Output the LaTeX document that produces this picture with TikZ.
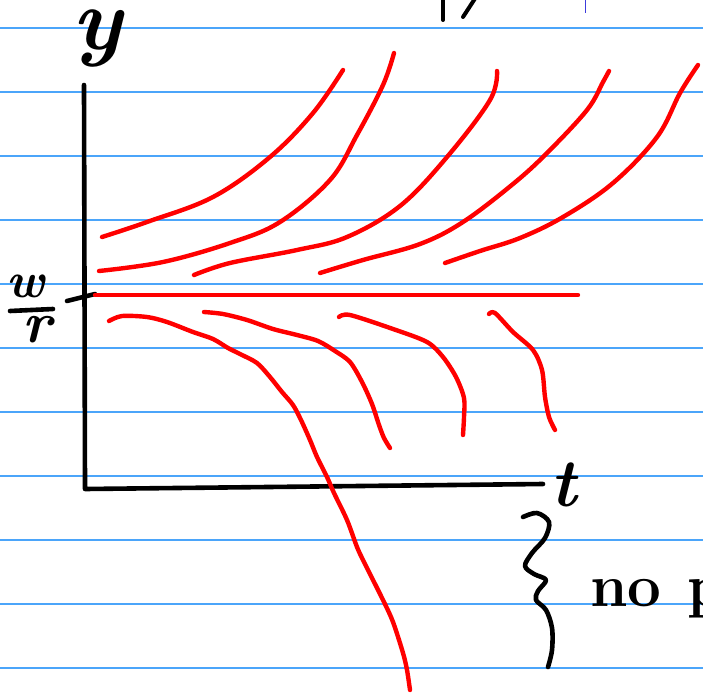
\documentclass[tikz,border=0pt]{standalone}
\usepackage{fontspec}
\definecolor{ruleblue}{RGB}{75,165,250}
\definecolor{pen}{RGB}{255,0,0}
\definecolor{tickblue}{RGB}{60,60,220}
\tikzset{
  ruleline/.style={draw=ruleblue,line width=1.6pt},
  axisline/.style={draw=black,line width=4.6pt,line cap=round,line join=round},
  sol/.style={draw=pen,line width=4.4pt,line cap=round,line join=round},
  hand/.style={inner sep=0pt,anchor=base west},
}
\begin{document}
\begin{tikzpicture}[x=1pt,y=-1pt]
\useasboundingbox (0,0) rectangle (703,698);
\clip (0,0) rectangle (703,698);
\fill[white] (0,0) rectangle (703,698);
% ruled paper
\foreach \k in {0,...,10} \draw[ruleline] (0,28+64*\k) -- (703,28+64*\k);

% partial strokes at the top edge
\draw[axisline,line width=4pt] (443,-3) -- (443,20);
\draw[axisline,line width=4pt] (463,17) -- (476,-3);
\draw[draw=tickblue,line width=1pt] (585,0) -- (585,13);

% axes
\coordinate (ytop) at (84,85);
\coordinate (O) at (85,489);
\coordinate (xend) at (543,484);
\draw[axisline] (ytop) -- (O) -- (xend);
\coordinate (tickL) at (67,301);
\coordinate (tickR) at (95,294);
\draw[axisline] (tickL) -- (tickR);

% labels
\node[hand,font=\fontsize{88}{88}\selectfont\bfseries\itshape] (ylab) at (72,50) {y};
\node[hand,font=\fontsize{68}{68}\selectfont\bfseries\itshape] (tlab) at (550,506) {t};
\node[hand,font=\fontsize{50}{50}\selectfont\bfseries\itshape] (wlab) at (6,297) {w};
\coordinate (barL) at (10,311);
\coordinate (barR) at (53,309);
\draw[axisline] (barL) -- (barR);
\node[hand,font=\fontsize{58}{58}\selectfont\bfseries\itshape] (rlab) at (22,342) {r};
\node[hand,font=\fontsize{60}{60}\selectfont\bfseries] (nolab) at (590,606) {no\hspace{26pt}p};

% brace
\draw[axisline] plot[smooth,tension=0.55] coordinates {
 (523,517) (537,513) (549,522) (545,538) (532,553) (525,566) (534,574) (546,580)
 (538,591) (536,600) (546,610) (552,628) (552,650) (548,667)};

% equilibrium
\coordinate (eqL) at (95,295);
\coordinate (eqR) at (578,295);
\draw[sol] (eqL) -- (eqR);

% solutions above
\draw[sol] plot[smooth,tension=0.6] coordinates {
 (102,237) (147,222) (213,197) (270,157) (313,113) (343,70)};
\draw[sol] plot[smooth,tension=0.6] coordinates {
 (99,271) (163,262) (230,243) (280,222) (330,180) (357,135) (383,85) (394,53)};
\draw[sol] plot[smooth,tension=0.6] coordinates {
 (194,275) (230,263) (297,250) (347,237) (400,206) (447,157) (490,100) (497,71)};
\draw[sol] plot[smooth,tension=0.6] coordinates {
 (320,273) (363,260) (420,244) (463,222) (513,184) (547,153) (587,110) (603,82) (609,71)};
\draw[sol] plot[smooth,tension=0.6] coordinates {
 (445,263) (480,251) (520,238) (563,217) (613,183) (657,137) (680,93) (698,65)};

% solutions below
\draw[sol] plot[smooth,tension=0.5] coordinates {
 (109,321) (122,316) (147,317) (167,322) (193,332) (213,339) (228,348) (240,354)
 (257,363) (270,377) (282,392) (293,405) (301,420) (310,440) (317,457) (327,477)
 (334,493) (347,520) (357,547) (364,562) (383,600) (393,622) (403,653) (407,670) (410,690)};
\draw[sol] plot[smooth,tension=0.5] coordinates {
 (204,312) (223,314) (247,320) (273,329) (297,335) (318,341) (335,351) (350,362)
 (362,382) (372,404) (379,425) (384,438) (390,448)};
\draw[sol] plot[smooth,tension=0.5] coordinates {
 (339,317) (350,315) (393,329) (427,342) (443,357) (456,377) (464,398) (464,417) (463,435)};
\draw[sol] plot[smooth,tension=0.5] coordinates {
 (489,314) (495,313) (513,332) (533,350) (542,370) (545,397) (549,417) (555,430)};
\end{tikzpicture}
\end{document}
